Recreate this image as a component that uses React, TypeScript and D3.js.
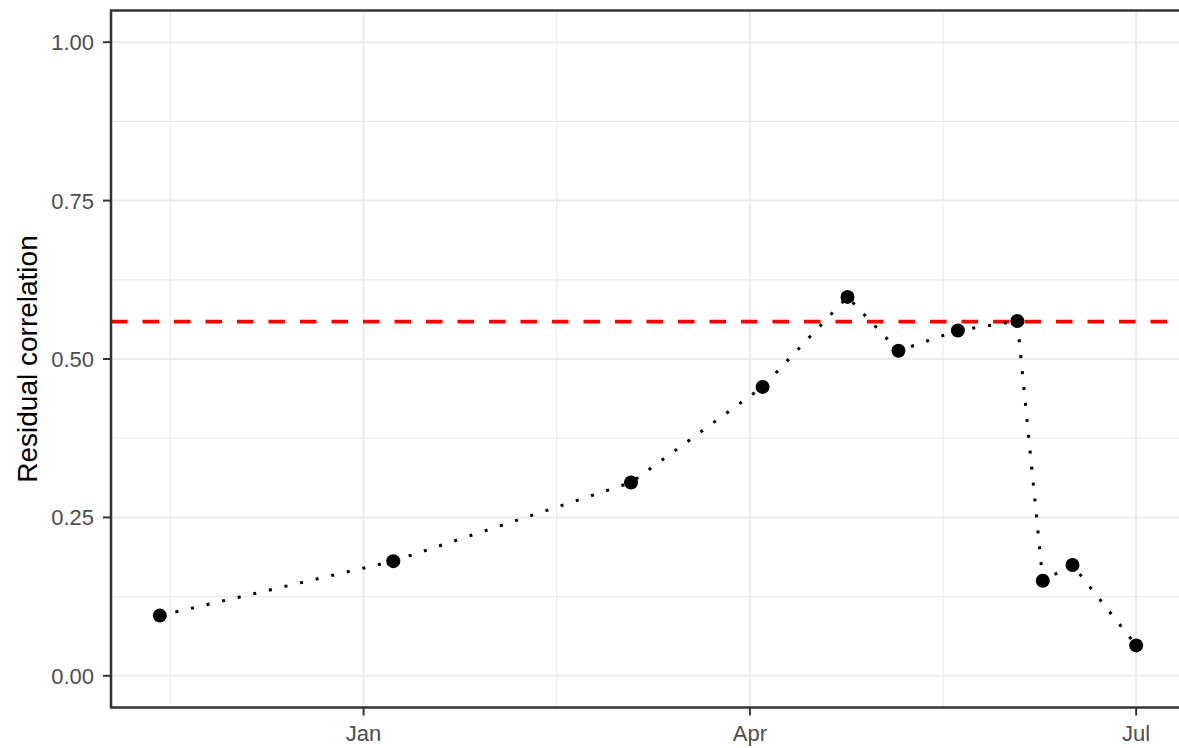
import React from "react";
import * as d3 from "d3";

const dates = [
  "2019-11-14", "2020-01-08", "2020-03-04", "2020-04-04", "2020-04-24",
  "2020-05-06", "2020-05-20", "2020-06-03", "2020-06-09", "2020-06-16", "2020-07-01",
];
const values = [0.095, 0.181, 0.305, 0.456, 0.598, 0.513, 0.545, 0.56, 0.15, 0.175, 0.048];
const threshold = 0.559;
const xTickDates = ["2020-01-01", "2020-04-01", "2020-07-01"];
const xTickLabels = ["Jan", "Apr", "Jul"];
const yTicks = [0, 0.25, 0.5, 0.75, 1];
const yMinor = [0.125, 0.375, 0.625, 0.875];
const yTitle = "Residual correlation";

const W = 1179, H = 748;
const L = 111, T = 10.5, B = 707.5, R = 1185;

const utc = (s: string) => new Date(s + "T00:00:00Z");

export default function App() {
  const parsed = dates.map(utc);
  const [mn, mx] = d3.extent(parsed) as [Date, Date];
  const span = +mx - +mn;
  const x = d3.scaleUtc()
    .domain([new Date(+mn - span * 0.05), new Date(+mx + span * 0.05)])
    .range([L, R]);
  const y = d3.scaleLinear().domain([-0.05, 1.05]).range([B, T]);
  const pts = parsed.map((d, i) => [x(d), y(values[i])] as [number, number]);
  const line = d3.line()(pts) || "";
  const majors = xTickDates.map(utc).map((d) => +d);
  const step = majors[1] - majors[0];
  const ext = [majors[0] - step, ...majors];
  const minors = ext.slice(1).map((v, i) => (v + ext[i]) / 2);
  const xt = majors.map((v) => x(new Date(v)));
  const xm = minors.map((v) => x(new Date(v)));
  const grid = "#EBEBEB";
  const axisCol = "#4D4D4D";
  const font = "'Liberation Sans', Arial, sans-serif";
  return (
    <div style={{ position: "absolute", left: 0, top: 0 }}>
      <svg width={W} height={H} style={{ display: "block", background: "#fff" }}>
        <rect x={0} y={0} width={W} height={H} fill="#fff" />
        {yMinor.map((v) => (
          <line key={"ym" + v} x1={L} x2={R} y1={y(v)} y2={y(v)} stroke={grid} strokeWidth={1.2} />
        ))}
        {xm.map((v, i) => (
          <line key={"xm" + i} x1={v} x2={v} y1={T} y2={B} stroke={grid} strokeWidth={1.2} />
        ))}
        {yTicks.map((v) => (
          <line key={"yg" + v} x1={L} x2={R} y1={y(v)} y2={y(v)} stroke={grid} strokeWidth={2} />
        ))}
        {xt.map((v, i) => (
          <line key={"xg" + i} x1={v} x2={v} y1={T} y2={B} stroke={grid} strokeWidth={2} />
        ))}
        <line x1={L} x2={R} y1={y(threshold)} y2={y(threshold)} stroke="#FF0000" strokeWidth={3.8} strokeDasharray="16.5 15" />
        <path d={line} fill="none" stroke="#000" strokeWidth={3} strokeDasharray="3 13" />
        {pts.map((p, i) => (
          <circle key={"p" + i} cx={p[0]} cy={p[1]} r={7} fill="#000" />
        ))}
        <rect x={L} y={T} width={R - L + 10} height={B - T} fill="none" stroke="#333333" strokeWidth={2.5} />
        {yTicks.map((v) => (
          <g key={"yt" + v}>
            <line x1={L - 8} x2={L} y1={y(v)} y2={y(v)} stroke="#333333" strokeWidth={2} />
            <text x={94} y={y(v)} dy="0.36em" textAnchor="end" fill={axisCol} fontFamily={font} fontSize={22}>
              {v.toFixed(2)}
            </text>
          </g>
        ))}
        {xt.map((v, i) => (
          <g key={"xt" + i}>
            <line x1={v} x2={v} y1={B} y2={B + 8} stroke="#333333" strokeWidth={2} />
            <text x={v} y={741} textAnchor="middle" fill={axisCol} fontFamily={font} fontSize={22}>
              {xTickLabels[i]}
            </text>
          </g>
        ))}
        <text
          transform={`translate(37, ${(T + B) / 2}) rotate(-90)`}
          textAnchor="middle"
          fill="#000"
          fontFamily={font}
          fontSize={28}
        >
          {yTitle}
        </text>
      </svg>
    </div>
  );
}
